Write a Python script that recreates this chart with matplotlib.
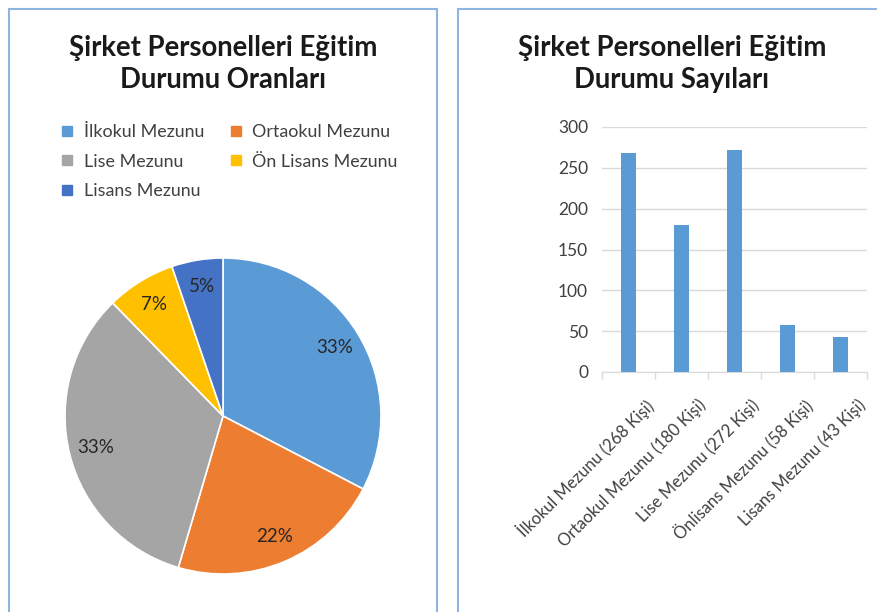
import matplotlib.pyplot as plt
from matplotlib.patches import Rectangle
from matplotlib.lines import Line2D
import matplotlib.transforms as mtransforms

plt.rcParams['font.family'] = ['Lato', 'DejaVu Sans']

categories = ['İlkokul Mezunu', 'Ortaokul Mezunu', 'Lise Mezunu', 'Ön Lisans Mezunu', 'Lisans Mezunu']
bar_labels = ['İlkokul Mezunu (268 Kişi)', 'Ortaokul Mezunu (180 Kişi)', 'Lise Mezunu (272 Kişi)',
              'Önlisans Mezunu (58 Kişi)', 'Lisans Mezunu (43 Kişi)']
counts = [268, 180, 272, 58, 43]
colors = ['#5B9BD5', '#ED7D31', '#A5A5A5', '#FFC000', '#4472C4']

W, H = 877, 612
fig = plt.figure(figsize=(W / 100, H / 100), dpi=100)


def box(x0, y0, x1, y1):
    # pixel box (top-left origin) -> figure fraction rect
    return [x0 / W, 1 - y1 / H, (x1 - x0) / W, (y1 - y0) / H]


# panel borders
for x0, x1 in [(9, 437), (458, 890)]:
    fig.patches.append(Rectangle((x0 / W, -0.05), (x1 - x0) / W, 1 - 9 / H + 0.05,
                                 transform=fig.transFigure, fill=False,
                                 edgecolor='#8FB4E0', linewidth=1.5))

# titles
fig.text(223 / W, 1 - 64 / H, 'Şirket Personelleri Eğitim\nDurumu Oranları', ha='center', va='center',
         fontsize=19.8, fontweight='bold', color='#1a1a1a', linespacing=1.28)
fig.text(672 / W, 1 - 64 / H, 'Şirket Personelleri Eğitim\nDurumu Sayıları', ha='center', va='center',
         fontsize=19.8, fontweight='bold', color='#1a1a1a', linespacing=1.28)

# pie
ax1 = fig.add_axes(box(65, 258, 381, 574))
wedges, texts, autotexts = ax1.pie(counts, colors=colors, startangle=90, counterclock=False,
                                   autopct='%1.0f%%', pctdistance=0.83,
                                   wedgeprops=dict(edgecolor='white', linewidth=1.2),
                                   textprops=dict(fontsize=13.5, color='#262626'))
ax1.set_xlim(-1, 1)
ax1.set_ylim(-1, 1)
ax1.set_aspect('auto')

order = [0, 2, 4, 1, 3]
handles = [Line2D([], [], marker='s', linestyle='', markersize=7.5, color=colors[i]) for i in order]
fig.legend(handles, [categories[i] for i in order], ncol=2, frameon=False,
           loc='upper left', bbox_to_anchor=(37 / W, 1 - 108 / H),
           fontsize=12.9, handletextpad=0.1, columnspacing=1.0, labelspacing=0.76,
           labelcolor='#404040', handlelength=1.6)

# bars
ax2 = fig.add_axes(box(602, 127, 867, 372))
x = range(len(counts))
ax2.bar(x, counts, width=0.27, color='#5B9BD5', zorder=3)
ax2.set_ylim(0, 300)
ax2.set_xlim(-0.5, len(counts) - 0.5)
ax2.set_yticks(range(0, 301, 50))
ax2.yaxis.grid(True, color='#D9D9D9', linewidth=1)
for s in ['top', 'right', 'left']:
    ax2.spines[s].set_visible(False)
ax2.spines['bottom'].set_color('#D9D9D9')
ax2.tick_params(axis='y', length=0, labelsize=12.5, labelcolor='#404040', pad=10)
ax2.set_xticks(list(x))
ax2.set_xticklabels(bar_labels, rotation=45, ha='right', va='center', rotation_mode='anchor',
                    fontsize=12, color='#404040')
ax2.tick_params(axis='x', which='major', length=0, pad=22)
ax2.set_xticks([i - 0.5 for i in range(len(counts) + 1)], minor=True)
ax2.tick_params(axis='x', which='minor', length=5, color='#D9D9D9', width=1)
offset = mtransforms.ScaledTranslation(22 / 100, 0, fig.dpi_scale_trans)
for lab in ax2.get_xticklabels():
    lab.set_transform(lab.get_transform() + offset)

fig.savefig('out.png', dpi=100, facecolor='white')
